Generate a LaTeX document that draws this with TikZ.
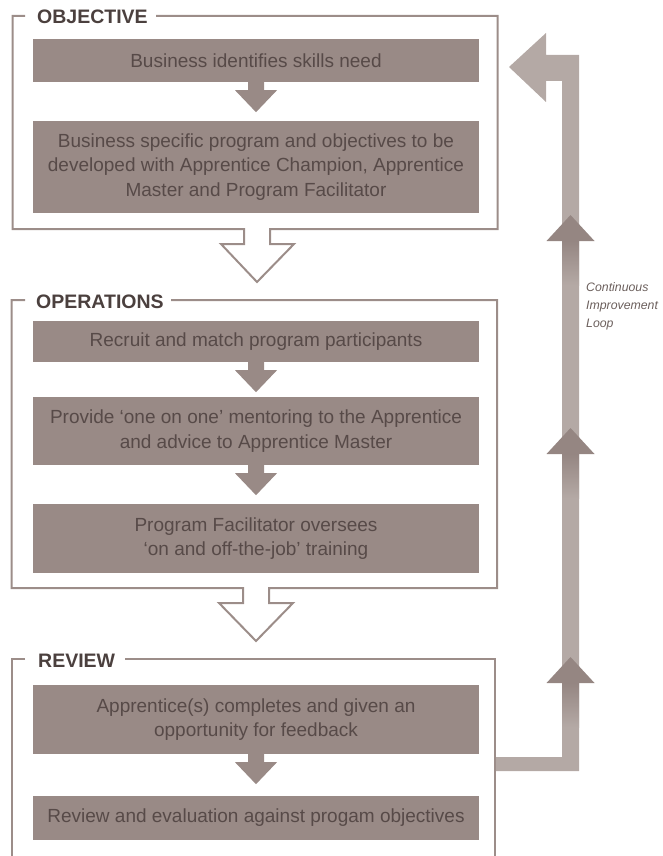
\documentclass[tikz,border=0pt]{standalone}
\usepackage{fontspec}
\setmainfont{Liberation Sans}
\usetikzlibrary{calc}
\definecolor{boxfill}{HTML}{998A86}
\definecolor{framec}{HTML}{9C8D89}
\definecolor{textc}{HTML}{574A48}
\definecolor{titlec}{HTML}{4B403E}
\definecolor{loopc}{HTML}{B4A9A5}
\definecolor{tric}{HTML}{958682}
\definecolor{notec}{HTML}{6B5F5C}
\tikzset{
  stepbox/.style={fill=boxfill, draw=none, minimum width=446pt, inner sep=0pt,
    align=center, text=textc, font=\fontsize{19}{24.5}\selectfont},
  frame/.style={draw=framec, line width=2pt, line join=miter},
  title/.style={anchor=base west, inner sep=0pt, text=titlec,
    font=\fontsize{19.5}{20}\selectfont\bfseries},
  smallarrow/.style={fill=boxfill, draw=none},
  looparrow/.style={fill=loopc, draw=none},
  uptri/.style={fill=tric, draw=none},
  note/.style={anchor=base west, inner sep=0pt, align=left, text=notec,
    font=\fontsize{12.3}{18}\selectfont\itshape}
}
\begin{document}
\begin{tikzpicture}[x=1pt,y=-1pt]
\useasboundingbox (0,0) rectangle (662,856);

% ---------------- OBJECTIVE ----------------
\node[title] (tobj) at (37,24) {OBJECTIVE};
\draw[frame] (25,16) -- (12.7,16) -- (12.7,229) -- (244,229) -- (244,244) -- (221,244)
  -- (257,282) -- (294,244) -- (270,244) -- (270,229) -- (497.7,229) -- (497.7,16) -- (156,16);
\node[stepbox, minimum height=43pt] (o1) at (256,60.5) {Business identifies skills need};
\node[stepbox, minimum height=92pt] (o2) at (256,167) {Business specific program and objectives to be\\developed with Apprentice Champion, Apprentice\\Master and Program Facilitator};
\fill[smallarrow] (o1.south) ++(-8,0) -- ++(0,8) -- ++(-13,0) -- ++(21,22) -- ++(21,-22) -- ++(-13,0) -- ++(0,-8) -- cycle;

% ---------------- OPERATIONS ----------------
\node[title] (tops) at (36,308) {OPERATIONS};
\draw[frame] (25,300) -- (11.5,300) -- (11.5,588) -- (243,588) -- (243,603) -- (219,603)
  -- (256,641) -- (293,603) -- (269,603) -- (269,588) -- (497,588) -- (497,300) -- (171,300);
\node[stepbox, minimum height=41pt] (p1) at (256,341.5) {Recruit and match program participants};
\node[stepbox, minimum height=68pt] (p2) at (256,431) {Provide ‘one on one’ mentoring to the Apprentice\\and advice to Apprentice Master};
\node[stepbox, minimum height=69pt] (p3) at (256,538.5) {Program Facilitator oversees\\‘on and off-the-job’ training};
\fill[smallarrow] (p1.south) ++(-8,0) -- ++(0,8) -- ++(-13,0) -- ++(21,22) -- ++(21,-22) -- ++(-13,0) -- ++(0,-8) -- cycle;
\fill[smallarrow] (p2.south) ++(-8,0) -- ++(0,8) -- ++(-13,0) -- ++(21,22) -- ++(21,-22) -- ++(-13,0) -- ++(0,-8) -- cycle;

% ---------------- REVIEW ----------------
\node[title] (trev) at (38,667) {REVIEW};
\draw[frame] (25,659) -- (12,659) -- (12,870);
\draw[frame] (495,870) -- (495,659) -- (125,659);
\node[stepbox, minimum height=69pt] (r1) at (256,719.5) {Apprentice(s) completes and given an\\opportunity for feedback};
\node[stepbox, minimum height=44pt] (r2) at (256,818) {Review and evaluation against progam objectives};
\fill[smallarrow] (r1.south) ++(-8,0) -- ++(0,8) -- ++(-13,0) -- ++(21,22) -- ++(21,-22) -- ++(-13,0) -- ++(0,-8) -- cycle;

% ---------------- CONTINUOUS IMPROVEMENT LOOP ----------------
\coordinate (lstart) at (496,764);
\coordinate (ltip) at (509,67);
\fill[looparrow] ($(lstart)+(0,-7)$) -- (562,757) -- (562,81) -- (546,81) -- (546,102)
  -- (ltip) -- (546,33) -- (546,55) -- (579,55) -- (579,771) -- ($(lstart)+(0,7)$) -- cycle;
\foreach \ty in {215,428,657}{
  \shade[top color=tric, bottom color=loopc] (562,\ty+26) rectangle (579,\ty+70);
  \fill[uptri] (570.5,\ty) -- (594.5,\ty+26) -- (546.5,\ty+26) -- cycle;
}
\node[note] (loopnote) at (586,327) {Continuous\\Improvement\\Loop};
\end{tikzpicture}
\end{document}
